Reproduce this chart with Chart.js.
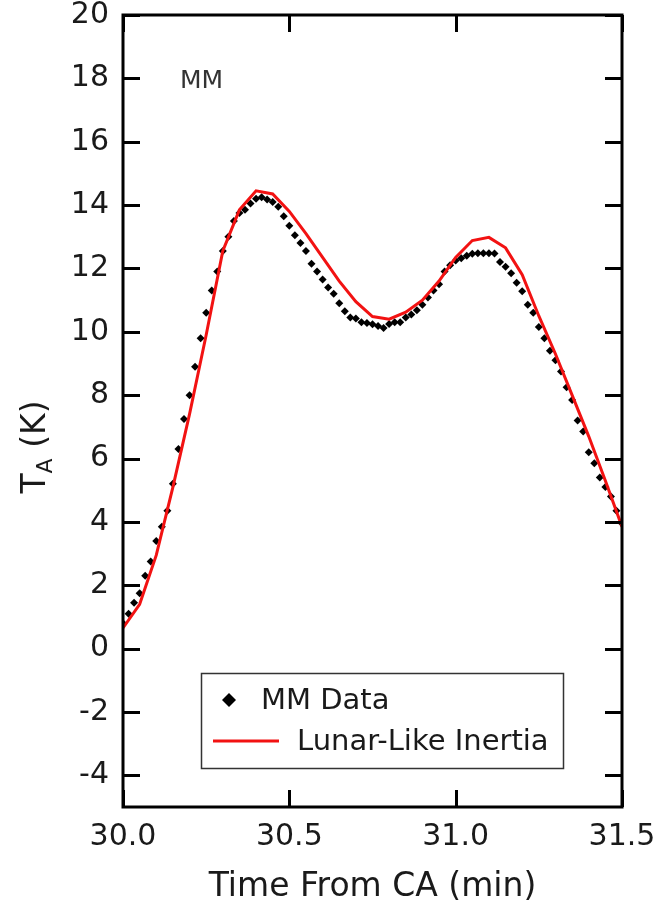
<!DOCTYPE html>
<html><head><meta charset="utf-8">
<script src="https://cdn.jsdelivr.net/npm/chart.js@4.4.0/dist/chart.umd.min.js"></script>
<style>html,body{margin:0;padding:0;background:#fff;}canvas{display:block;}</style>
</head><body>
<canvas id="c" width="668" height="915"></canvas>
<script>
const mmTimes = [
30.0000, 30.0167, 30.0333, 30.0500, 30.0667, 30.0833, 30.1000, 30.1167, 30.1333, 30.1500,
30.1667, 30.1833, 30.2000, 30.2167, 30.2333, 30.2500, 30.2667, 30.2833, 30.3000, 30.3167,
30.3333, 30.3500, 30.3667, 30.3833, 30.4000, 30.4167, 30.4333, 30.4500, 30.4667, 30.4833,
30.5000, 30.5167, 30.5333, 30.5500, 30.5667, 30.5833, 30.6000, 30.6167, 30.6333, 30.6500,
30.6667, 30.6833, 30.7000, 30.7167, 30.7333, 30.7500, 30.7667, 30.7833, 30.8000, 30.8167,
30.8333, 30.8500, 30.8667, 30.8833, 30.9000, 30.9167, 30.9333, 30.9500, 30.9667, 30.9833,
31.0000, 31.0167, 31.0333, 31.0500, 31.0667, 31.0833, 31.1000, 31.1167, 31.1333, 31.1500,
31.1667, 31.1833, 31.2000, 31.2167, 31.2333, 31.2500, 31.2667, 31.2833, 31.3000, 31.3167,
31.3333, 31.3500, 31.3667, 31.3833, 31.4000, 31.4167, 31.4333, 31.4500, 31.4667, 31.4833,
31.5000];
const mmValues = [
0.80, 1.10, 1.45, 1.75, 2.30, 2.75, 3.40, 3.85, 4.35, 5.20,
6.30, 7.25, 8.00, 8.90, 9.80, 10.60, 11.30, 11.90, 12.55, 13.00,
13.50, 13.75, 13.85, 14.05, 14.20, 14.25, 14.18, 14.10, 13.95, 13.65,
13.35, 13.05, 12.80, 12.55, 12.15, 11.90, 11.65, 11.40, 11.20, 10.90,
10.65, 10.45, 10.42, 10.30, 10.28, 10.24, 10.18, 10.12, 10.25, 10.30,
10.30, 10.45, 10.55, 10.68, 10.85, 11.08, 11.30, 11.50, 11.90, 12.10,
12.25, 12.32, 12.40, 12.46, 12.48, 12.48, 12.48, 12.47, 12.20, 12.05,
11.85, 11.55, 11.28, 10.85, 10.60, 10.15, 9.80, 9.40, 9.10, 8.75,
8.25, 7.85, 7.20, 6.85, 6.20, 5.85, 5.40, 5.10, 4.80, 4.35,
3.95];
const modelTimes = [
30.00, 30.05, 30.10, 30.15, 30.20, 30.25, 30.30, 30.35, 30.40, 30.45,
30.50, 30.55, 30.60, 30.65, 30.70, 30.75, 30.80, 30.85, 30.90, 30.95,
31.00, 31.05, 31.10, 31.15, 31.20, 31.25, 31.30, 31.35, 31.40, 31.45,
31.50];
const modelValues = [
0.65, 1.40, 2.95, 5.10, 7.40, 9.90, 12.55, 13.85, 14.45, 14.35,
13.80, 13.10, 12.35, 11.60, 10.95, 10.48, 10.40, 10.62, 11.00, 11.60,
12.35, 12.88, 12.98, 12.65, 11.80, 10.50, 9.30, 8.00, 6.70, 5.30,
3.85];
const xTicks = [30.0, 30.5, 31.0, 31.5];
const yTicks = [-4, -2, 0, 2, 4, 6, 8, 10, 12, 14, 16, 18, 20];
const seriesLabels = ['MM Data', 'Lunar-Like Inertia'];
const panelLabel = 'MM';
const xTitle = 'Time From CA (min)';

const FONT = "'DejaVu Sans', sans-serif";
const TXT = '#1a1a1a';

const framePlugin = {
  id: 'frame',
  afterDraw(chart) {
    const ctx = chart.ctx, a = chart.chartArea;
    const xs = chart.scales.x, ys = chart.scales.y;
    ctx.save();
    ctx.strokeStyle = '#000';
    ctx.lineWidth = 3;
    ctx.lineCap = 'butt';
    ctx.strokeRect(a.left, a.top, a.right - a.left, a.bottom - a.top);
    const L = 17;
    ctx.beginPath();
    yTicks.forEach(v => {
      const y = Math.round(ys.getPixelForValue(v)) + 0.5;
      ctx.moveTo(a.left, y); ctx.lineTo(a.left + L, y);
      ctx.moveTo(a.right, y); ctx.lineTo(a.right - L, y);
    });
    xTicks.forEach(v => {
      const x = Math.round(xs.getPixelForValue(v)) + 0.5;
      ctx.moveTo(x, a.bottom); ctx.lineTo(x, a.bottom - L);
      ctx.moveTo(x, a.top); ctx.lineTo(x, a.top + L);
    });
    ctx.stroke();

    // panel label
    ctx.fillStyle = '#333';
    ctx.font = '25px ' + FONT;
    ctx.textAlign = 'left';
    ctx.textBaseline = 'alphabetic';
    ctx.fillText(panelLabel, 180, 88);

    // legend
    const ds = chart.data.datasets;
    ctx.lineWidth = 1.5;
    ctx.strokeStyle = '#333';
    ctx.strokeRect(201.5, 673.5, 362, 95);
    ctx.font = '29px ' + FONT;
    ctx.fillStyle = TXT;
    ctx.textBaseline = 'middle';
    const d = 7;
    ctx.beginPath();
    ctx.moveTo(229, 700 - d); ctx.lineTo(229 + d, 700); ctx.lineTo(229, 700 + d); ctx.lineTo(229 - d, 700); ctx.closePath();
    ctx.fillStyle = ds[1].backgroundColor;
    ctx.fill();
    ctx.fillStyle = TXT;
    ctx.fillText(ds[1].label, 261, 701);
    ctx.beginPath();
    ctx.strokeStyle = ds[0].borderColor;
    ctx.lineWidth = 3;
    ctx.moveTo(213, 741); ctx.lineTo(279, 741);
    ctx.stroke();
    ctx.fillText(ds[0].label, 297, 742);

    // y title with subscript
    ctx.translate(33, 447);
    ctx.rotate(-Math.PI / 2);
    ctx.textBaseline = 'alphabetic';
    const f1 = '33px ' + FONT, f2 = '22px ' + FONT;
    ctx.font = f1; const wT = ctx.measureText('T').width;
    ctx.font = f2; const wA = ctx.measureText('A').width;
    ctx.font = f1; const wK = ctx.measureText(' (K)').width;
    let x0 = -(wT + wA + wK) / 2;
    ctx.fillStyle = TXT;
    ctx.font = f1; ctx.fillText('T', x0, 12);
    ctx.font = f2; ctx.fillText('A', x0 + wT, 19);
    ctx.font = f1; ctx.fillText(' (K)', x0 + wT + wA, 12);
    ctx.restore();
  }
};

const mmPoints = mmTimes.map((t, i) => ({x: t, y: mmValues[i]}));
const modelPoints = modelTimes.map((t, i) => ({x: t, y: modelValues[i]}));

new Chart(document.getElementById('c'), {
  type: 'line',
  data: {
    datasets: [
      {
        label: seriesLabels[1], data: modelPoints,
        borderColor: 'rgb(242,18,18)', backgroundColor: 'rgb(242,18,18)',
        borderWidth: 3, pointRadius: 0, tension: 0, order: 0, fill: false
      },
      {
        label: seriesLabels[0], data: mmPoints,
        showLine: false, pointStyle: 'rectRot', pointRadius: 4,
        backgroundColor: '#000', borderColor: '#000', borderWidth: 0, order: 1
      }
    ]
  },
  options: {
    responsive: false,
    animation: false,
    devicePixelRatio: 1,
    layout: { padding: { left: 0, right: 46, top: 15, bottom: 0 } },
    plugins: { legend: { display: false }, tooltip: { enabled: false } },
    scales: {
      x: {
        type: 'linear', min: 30, max: 31.5,
        grid: { display: false, drawTicks: false },
        border: { display: false },
        afterBuildTicks: s => { s.ticks = xTicks.map(v => ({value: v})); },
        afterFit: s => { s.height = 108; s.paddingLeft = 0; s.paddingRight = 0; },
        ticks: {
          callback: v => Number(v).toFixed(1),
          font: { size: 30, family: FONT }, color: TXT, padding: 12,
          maxRotation: 0, autoSkip: false
        },
        title: {
          display: true, text: xTitle,
          font: { size: 33, family: FONT }, color: TXT,
          padding: { top: 0, bottom: 8 }
        }
      },
      y: {
        type: 'linear', min: -5, max: 20,
        grid: { display: false, drawTicks: false },
        border: { display: false },
        afterBuildTicks: s => { s.ticks = yTicks.map(v => ({value: v})); },
        afterFit: s => { s.width = 123; s.paddingTop = 0; s.paddingBottom = 0; },
        ticks: {
          font: { size: 30, family: FONT }, color: TXT, padding: 14,
          autoSkip: false
        }
      }
    }
  },
  plugins: [framePlugin]
});
</script>
</body></html>
